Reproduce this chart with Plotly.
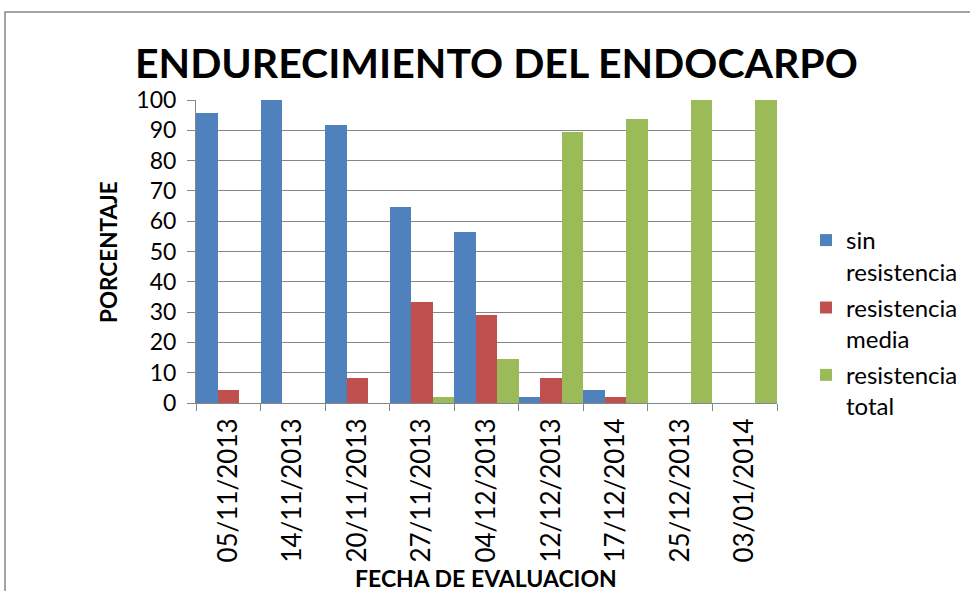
import plotly.graph_objects as go

categories = ["05/11/2013", "14/11/2013", "20/11/2013", "27/11/2013", "04/12/2013",
              "12/12/2013", "17/12/2014", "25/12/2013", "03/01/2014"]
sin_resistencia = [95.8, 100, 91.7, 64.6, 56.3, 2.1, 4.2, 0, 0]
resistencia_media = [4.2, 0, 8.3, 33.3, 29.2, 8.3, 2.1, 0, 0]
resistencia_total = [0, 0, 0, 2.1, 14.6, 89.6, 93.8, 100, 100]

series_names = ["sin<br>resistencia", "resistencia<br>media", "resistencia<br>total"]
colors = ["#4F81BD", "#C0504D", "#9BBB59"]

FONT = "Lato"
fig = go.Figure()
for i, (name, vals, col) in enumerate(zip(series_names, [sin_resistencia, resistencia_media, resistencia_total], colors)):
    fig.add_trace(go.Bar(x=categories, y=vals, name=name, legendgroup=f"g{i}",
                         marker=dict(color=col, line=dict(width=0))))

W, H = 970, 591
L, R, T, B = 196, 193, 100, 188
pw, ph = W - L - R, H - T - B

def px(x):
    return (x - L) / pw

def py(y):
    return (H - B - y) / ph

fig.update_layout(
    width=W, height=H,
    margin=dict(l=L, r=R, t=T, b=B, autoexpand=False),
    paper_bgcolor="white", plot_bgcolor="white",
    barmode="group", bargap=0, bargroupgap=0,
    font=dict(family=FONT, color="black"),
    showlegend=True,
    legend=dict(x=px(806), y=py(218), xanchor="left", yanchor="top",
                font=dict(size=24, family=FONT), valign="top",
                traceorder="grouped", tracegroupgap=2,
                itemwidth=30, bgcolor="rgba(0,0,0,0)"),
    xaxis=dict(type="category", tickangle=-90, tickfont=dict(size=26, family=FONT),
               showline=True, linecolor="#868686", linewidth=1, automargin=False,
               ticks="outside", ticklen=7, tickcolor="#868686", tickson="boundaries",
               showgrid=False, ticklabelstandoff=4),
    yaxis=dict(range=[0, 100], dtick=10, tickfont=dict(size=23, family=FONT),
               showline=True, linecolor="#868686", linewidth=1, automargin=False,
               ticks="outside", ticklen=8, tickcolor="#868686",
               showgrid=True, gridcolor="#868686", gridwidth=1, zeroline=False,
               ticklabelstandoff=6),
    annotations=[
        dict(text="<b>ENDURECIMIENTO DEL ENDOCARPO</b>", x=px(496), y=py(62),
             xref="paper", yref="paper", showarrow=False, xanchor="center", yanchor="middle",
             font=dict(size=41, family=FONT, color="black")),
        dict(text="<b>PORCENTAJE</b>", x=px(108), y=py(252), textangle=-90,
             xref="paper", yref="paper", showarrow=False, xanchor="center", yanchor="middle",
             font=dict(size=22.5, family=FONT, color="black")),
        dict(text="<b>FECHA DE EVALUACION</b>", x=px(486), y=py(578),
             xref="paper", yref="paper", showarrow=False, xanchor="center", yanchor="middle",
             font=dict(size=23, family=FONT, color="black")),
    ],
    shapes=[dict(type="rect", xref="paper", yref="paper",
                 x0=px(5), x1=px(990), y0=py(620), y1=py(12),
                 line=dict(color="#868686", width=1.5), fillcolor="rgba(0,0,0,0)", layer="below")],
)

fig.write_html("out.html", config={"displayModeBar": False},
               post_script="document.body.style.margin='0';document.body.style.overflow='hidden';")
